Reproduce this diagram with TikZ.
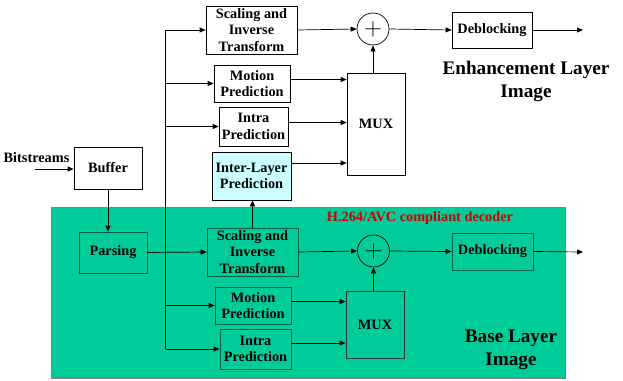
\documentclass[tikz,border=0pt]{standalone}
\usepackage{fontspec}
\setmainfont{Liberation Serif}
\usetikzlibrary{positioning,arrows.meta}

\definecolor{basegreen}{RGB}{0,204,153}
\definecolor{boxline}{RGB}{0,95,70}
\definecolor{ilcyan}{RGB}{204,255,255}
\definecolor{avcred}{RGB}{204,0,0}

\begin{document}
\begin{tikzpicture}[x=1pt, y=-1pt, line width=0.7pt,
  font=\fontsize{14.3}{16.5}\selectfont\bfseries,
  blk/.style={draw, fill=white, align=center, inner sep=0pt},
  gblk/.style={draw=boxline, fill=basegreen, align=center, inner sep=0pt},
  sum/.style={draw, circle, minimum size=32pt, inner sep=0pt, font=\fontsize{30}{30}\selectfont},
  arr/.style={-{Triangle[length=6pt,width=5pt]}}]

\useasboundingbox (0,0) rectangle (623,380);

% Base layer area
\filldraw[fill=basegreen, draw=gray] (51,207) rectangle (565,378);
\node[text=avcred] (avc) at (420,218) {H.264/AVC compliant decoder};

% Enhancement layer
\node[blk, minimum width=91pt, minimum height=48pt] (scT) at (251.5,30) {Scaling and\\Inverse\\Transform};
\node[sum, fill=white] (sumT) at (373,29) {$+$};
\node[blk, minimum width=80pt, minimum height=36pt] (dbT) at (492,30) {Deblocking};
\node[blk, minimum width=76pt, minimum height=37pt] (mpT) at (252,83.5) {Motion\\Prediction};
\node[blk, minimum width=69pt, minimum height=39pt] (ipT) at (253.5,126.5) {Intra\\Prediction};
\node[blk, fill=ilcyan, minimum width=79pt, minimum height=48pt] (ilp) at (251.5,176) {Inter-Layer\\Prediction};
\node[blk, minimum width=58pt, minimum height=102pt] (muxT) at (376,124) {MUX};
\node[align=center, font=\fontsize{19.2}{23}\selectfont\bfseries] (enh) at (526,81) {Enhancement Layer\\Image};

% Input side
\node (bits) at (36.5,158) {Bitstreams};
\coordinate (bin) at (35,169);
\node[blk, minimum width=68pt, minimum height=42pt] (buf) at (108,168) {Buffer};

% Base layer
\node[gblk, minimum width=68pt, minimum height=41pt] (pars) at (113,252.5) {Parsing};
\node[gblk, minimum width=91pt, minimum height=48pt] (scB) at (252.5,252) {Scaling and\\Inverse\\Transform};
\node[sum] (sumB) at (373.5,251) {$+$};
\node[gblk, minimum width=81pt, minimum height=37pt] (dbB) at (492.5,251.5) {Deblocking};
\node[gblk, minimum width=76pt, minimum height=37pt] (mpB) at (253,305.5) {Motion\\Prediction};
\node[gblk, minimum width=71pt, minimum height=40pt] (ipB) at (255.5,349) {Intra\\Prediction};
\node[gblk, draw=black!80, minimum width=58pt, minimum height=67pt] (muxB) at (375,324.5) {MUX};
\node[align=center, font=\fontsize{19.2}{23}\selectfont\bfseries] (base) at (511,350) {Base Layer\\Image};

% Outputs
\coordinate (outT) at (583,30);
\coordinate (outB) at (583,252);

% Distribution bus
\coordinate (bt) at (165.5,30);
\coordinate (bb) at (165.5,349);
\draw (bt) -- (bb);
\draw[arr] (bt) -- (scT.west);
\draw[arr] (bt |- mpT.west) -- (mpT.west);
\draw[arr] (bt |- ipT.west) -- (ipT.west);
\draw[arr] (bt |- mpB.west) -- (mpB.west);
\draw[arr] (bb) -- (bb -| ipB.west);

% Connections
\draw[arr] (bin) -- (bin -| buf.west);
\draw[arr] (buf.south) -- (buf.south |- pars.north);
\draw[arr] (pars.east) -- (scB.west);
\draw[arr] (scB.north) -- (scB.north |- ilp.south);

\draw[arr] (scT.east) -- (sumT.west);
\draw[arr] (sumT.east) -- (dbT.west);
\draw[arr] (dbT.east) -- (outT);
\draw[arr] (sumT.south |- muxT.north) -- (sumT.south);
\draw[arr] ([yshift=4pt]mpT.east) -- ([yshift=4pt]mpT.east -| muxT.west);
\draw[arr] ([yshift=4pt]ipT.east) -- ([yshift=4pt]ipT.east -| muxT.west);
\draw[arr] ([yshift=13pt]ilp.east) -- ([yshift=13pt]ilp.east -| muxT.west);

\draw[arr] (scB.east) -- (sumB.west);
\draw[arr] (sumB.east) -- (dbB.west);
\draw[arr] (dbB.east) -- (outB);
\draw[arr] (sumB.south |- muxB.north) -- (sumB.south);
\draw[arr] ([yshift=4pt]mpB.east) -- ([yshift=4pt]mpB.east -| muxB.west);
\draw[arr] ([yshift=6pt]ipB.east) -- ([yshift=6pt]ipB.east -| muxB.west);

\end{tikzpicture}
\end{document}
